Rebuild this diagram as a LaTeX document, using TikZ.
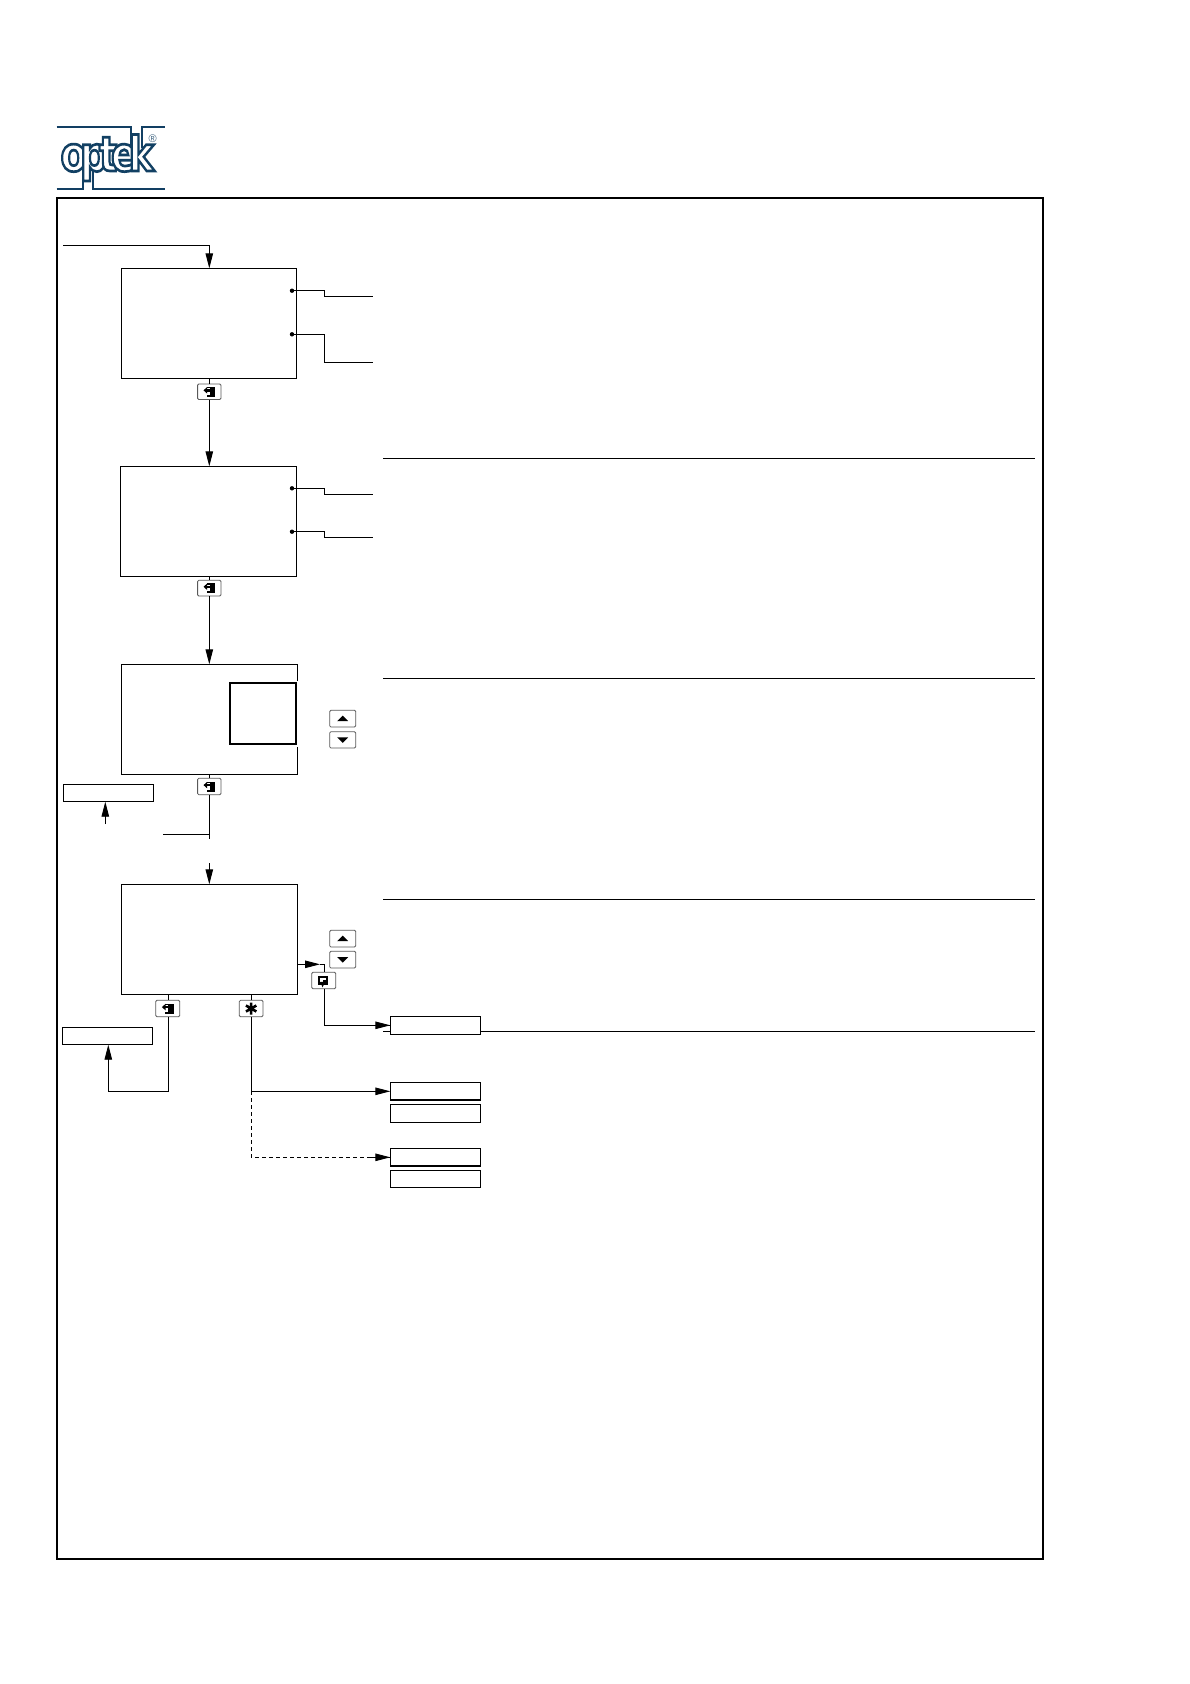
\documentclass[tikz,border=0pt]{standalone}
\usepackage{fontspec}
\setmainfont{Liberation Sans}
\newfontfamily\logofont{DejaVu Sans Bold}
\usetikzlibrary{arrows.meta,calc}
\definecolor{logoblue}{HTML}{123F63}
\newcommand\boxat[6]{\node[#6,minimum width={(#4-#2)*1pt},minimum height={(#5-#3)*1pt}] (#1) at ({(#2+#4)/2},{(#3+#5)/2}) {};}
\newcommand\logoletter[4]{\node[inner sep=0,outer sep=0,xscale=#4,anchor=base west,transform shape] (#1) at (#2,#3) {\fontsize{48}{48}\logofont\special{pdf:code q 0.07 0.25 0.39 RG 1 1 1 rg 2 Tr 2.7 w}#1\special{pdf:code Q}};}
\tikzset{
  box/.style={draw=black,fill=white,line width=.9pt,inner sep=0,outer sep=0},
  nodraw/.style={fill=white,inner sep=0,outer sep=0},
  keybox/.style={draw=black!65,fill=white,line width=.8pt,rounded corners=1.2pt,inner sep=0,outer sep=0},
  wire/.style={draw=black,line width=.9pt},
  flow/.style={wire,-{Triangle[length=15pt,width=7.5pt]}},
  dashwire/.style={wire,dash pattern=on 4pt off 3pt},
  sep/.style={draw=black,line width=.8pt},
  logoline/.style={draw=logoblue,line width=1.8pt},
  exiticon/.pic={
    \fill[black] (0.6,-5) rectangle (6,5);
    \fill[black] (-2.5,-5) rectangle (0.6,-3.6);
    \fill[black] (-2.5,3) rectangle (0.6,5);
    \fill[black] (-2.5,-2.6) rectangle (0.6,-0.2);
    \fill[black] (-5.8,-1.4) -- (-2.2,-4.6) -- (-2.2,1.8) -- cycle;
  },
  enteicon/.pic={
    \fill[black] (-5.5,-4.8) rectangle (4.7,4.5);
    \fill[white] (-3.3,-2.6) rectangle (2.6,1.6);
    \fill[black] (-0.5,-0.6) rectangle (2.6,1.6);
    \fill[black] (-3.3,1.4) -- (1.5,1.4) -- (-1.2,6.8) -- cycle;
  },
  staricon/.pic={
    \draw[black,line width=2.6pt] (0,-6) -- (0,6) (-5.2,-3) -- (5.2,3) (-5.2,3) -- (5.2,-3);
  },
  upicon/.pic={\fill[black] (-5.5,2.5) -- (5.5,2.5) -- (0,-3) -- cycle;},
  downicon/.pic={\fill[black] (-5.5,-2.5) -- (5.5,-2.5) -- (0,3) -- cycle;},
}
\begin{document}
\begin{tikzpicture}[x=1pt,y=-1pt]
\useasboundingbox (0,0) rectangle (1190,1684);
% page frame
\node[draw=black,line width=1.7pt,inner sep=0,outer sep=0,minimum width=986.5pt,minimum height=1361pt] (frame) at ({56.7+986.5/2},{198+1361/2}) {};
% logo
\coordinate (la) at (56.7,127.3);
\coordinate (lb) at (131,127.3);
\coordinate (lc) at (131,148);
\coordinate (ld) at (141.7,148);
\coordinate (le) at (141.7,127.3);
\coordinate (lf) at (165,127.3);
\coordinate (lg) at (56.7,189);
\coordinate (lh) at (82.6,189);
\coordinate (li) at (82.6,168);
\coordinate (lj) at (93,168);
\coordinate (lk) at (93,189);
\coordinate (ll) at (165,189);
\draw[logoline] (la) -- (lb) -- (lc);
\draw[logoline] (ld) -- (le) -- (lf);
\draw[logoline] (lg) -- (lh) -- (li);
\draw[logoline] (lj) -- (lk) -- (ll);
\logoletter{o}{60.5}{171}{0.8}
\logoletter{p}{80}{171}{0.8}
\logoletter{t}{99}{171}{0.8}
\logoletter{e}{111}{171}{0.8}
\logoletter{k}{128.5}{171}{0.8}
\node[inner sep=0,outer sep=0,text=logoblue!80,font=\fontsize{11}{11}\selectfont] (reg) at (152.7,138.3) {®};
% separators
\coordinate (s1a) at (383.4,458.4); \coordinate (s1b) at (1035,458.4);
\coordinate (s2a) at (383.4,678);   \coordinate (s2b) at (1035,678);
\coordinate (s3a) at (383.4,899.3); \coordinate (s3b) at (1035,899.3);
\coordinate (s4a) at (383.4,1031.3);\coordinate (s4b) at (1035,1031.3);
\draw[sep] (s1a) -- (s1b);
\draw[sep] (s2a) -- (s2b);
\draw[sep] (s3a) -- (s3b);
\draw[sep] (s4a) -- (s4b);
% main boxes
\boxat{b1}{121.3}{268.3}{296.7}{378.3}{box}
\boxat{b2}{120.3}{466.3}{296.3}{576.3}{box}
\boxat{b3}{121.3}{664.3}{297.3}{774.3}{nodraw}
\boxat{b4}{121.3}{884.3}{297.3}{994.3}{box}
\draw[wire] ($(b3.north east)+(0,16.4)$) -- (b3.north east) -- (b3.north west) -- (b3.south west) -- (b3.south east) -- ($(b3.south east)+(0,-27)$);
\boxat{inner}{229.7}{682.7}{296}{744}{draw=black,fill=white,line width=1.8pt,inner sep=0,outer sep=0}
% side boxes
\boxat{l1}{63.3}{784.3}{153.7}{801.7}{box}
\boxat{l2}{62.3}{1027.3}{152.7}{1044.7}{box}
\boxat{r1}{390.3}{1016.3}{480.7}{1034.3}{box}
\boxat{r2}{390.3}{1082.3}{480.7}{1100}{box}
\boxat{r3}{390.3}{1104.3}{480.7}{1122.3}{box}
\boxat{r4}{390.3}{1148.3}{480.7}{1166}{box}
\boxat{r5}{390.3}{1170.3}{480.7}{1187.7}{box}
\draw[line width=1.5pt] (r1.south west) -- (r1.south east);
\draw[line width=1.5pt] (r2.south west) -- (r2.south east);
\draw[line width=1.5pt] (r4.south west) -- (r4.south east);
% keys
\boxat{k1}{197.6}{384}{221}{399.5}{keybox}
\boxat{k2}{197.6}{580.3}{221}{596}{keybox}
\boxat{k3}{197.6}{778.3}{221}{794.7}{keybox}
\boxat{k4}{155.7}{1000.3}{179.7}{1016.7}{keybox}
\boxat{k5}{239.3}{1000.3}{263}{1016.7}{keybox}
\boxat{k6}{311.7}{972.3}{335.7}{988.7}{keybox}
\boxat{u3}{329.7}{710.3}{355.7}{727}{keybox}
\boxat{d3}{329.7}{731.7}{355.7}{748}{keybox}
\boxat{u4}{329.7}{930.3}{355.7}{947}{keybox}
\boxat{d4}{329.7}{951.3}{355.7}{968}{keybox}
\path (k1) pic {exiticon};
\path (k2) pic {exiticon};
\path (k3) pic {exiticon};
\path (k4) pic {exiticon};
\path (k5) pic {staricon};
\path (k6) pic {enteicon};
\path (u3) pic {upicon};
\path (d3) pic {downicon};
\path (u4) pic {upicon};
\path (d4) pic {downicon};
% connectors
\coordinate (start) at (63.3,245.3);
\draw[flow] (start) -| (k1.north |- b1.north);
\draw[wire] (k1.north |- b1.south) -- (k1.north);
\draw[flow] (k1.south) -- (k1.south |- b2.north);
\draw[wire] (k2.north |- b2.south) -- (k2.north);
\draw[flow] (k2.south) -- (k2.south |- b3.north);
\draw[wire] (k3.north |- b3.south) -- (k3.north);
\coordinate (cutA) at (209.3,838.7);
\coordinate (cutH) at (163,834.3);
\coordinate (cutB) at (209.3,863.3);
\draw[wire] (k3.south) -- (cutA);
\draw[wire] (cutH) -- (cutH -| cutA);
\draw[flow] (cutB) -- (cutB |- b4.north);
\coordinate (l1tail) at (105.3,824);
\draw[flow] (l1tail) -- (l1tail |- l1.south);
% box 1 and 2 pointers
\coordinate (d1a) at (292,290.7); \coordinate (e1) at (372.7,296.3);
\coordinate (d1b) at (292,334.3); \coordinate (e2) at (372.7,362.3);
\coordinate (d2a) at (292,488.3); \coordinate (e3) at (372.7,494.3);
\coordinate (d2b) at (292,531.7); \coordinate (e4) at (372.7,537);
\foreach \p/\q in {d1a/e1,d1b/e2,d2a/e3,d2b/e4}{
  \fill[black] (\p) circle (2.2pt);
  \draw[wire] (\p) -- ($(\p)+(32.5,0)$) |- (\q);
}
% box 4 connectors
\coordinate (outR) at (297.3,964.3);
\coordinate (outTip) at (320,964.3);
\coordinate (outC) at (324.3,964.3);
\draw[flow] (outR) -- (outTip);
\draw[wire] (outTip) -- (outC) -- (outC |- k6.north);
\draw[wire] (k6.south -| outC) |- (r1.west);
\draw[flow] ($(r1.west)+(-20,0)$) -- (r1.west);
\coordinate (k4x) at (168.3,1016.7);
\coordinate (l2in) at (108.3,1091.3);
\draw[wire] (k4x |- b4.south) -- (k4x |- k4.north);
\draw[flow] (k4x) |- (l2in) -- (l2in |- l2.south);
\coordinate (sx) at (251.3,1091.3);
\draw[wire] (k5.north -| sx) -- (b4.south -| sx);
\draw[wire] (k5.south -| sx) -- (sx);
\draw[flow] (sx) -- (sx -| r2.west);
\coordinate (dc) at (251.3,1157.3);
\draw[dashwire] (sx) -- (dc) -- (dc -| r4.west);
\draw[flow] ($(dc -| r4.west)+(-20,0)$) -- (dc -| r4.west);
\end{tikzpicture}
\end{document}
